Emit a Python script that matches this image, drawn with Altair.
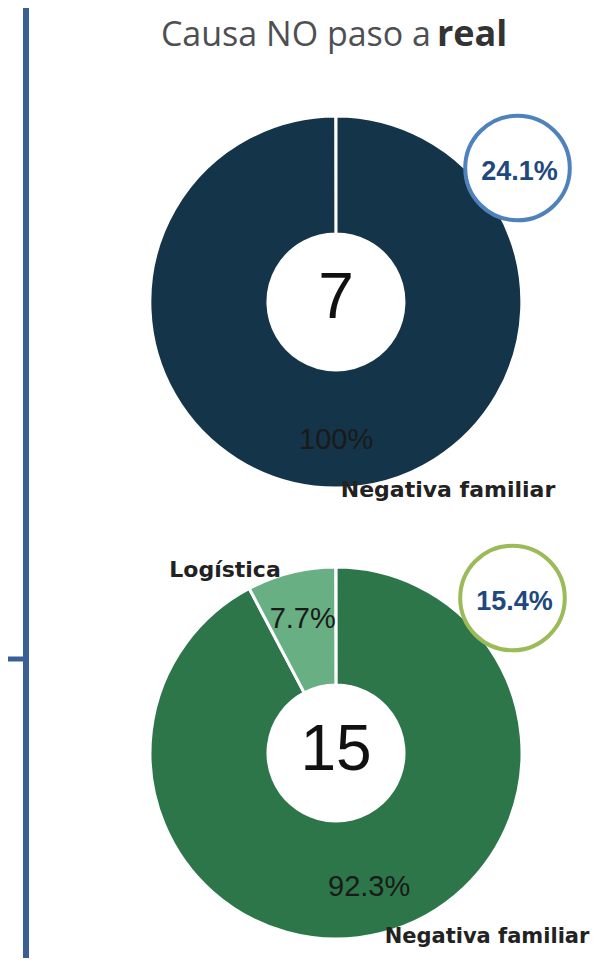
import altair as alt
import pandas as pd

# ---------------- data ----------------
titulo_normal = "Causa NO paso a"
titulo_bold = "real"

d1_cats = ["Negativa familiar"]
d1_vals = [100.0]
d1_total = ["7"]
d1_badge = ["24.1%"]

d2_cats = ["Negativa familiar", "Logística"]
d2_vals = [92.3, 7.7]
d2_total = ["15"]
d2_badge = ["15.4%"]

# ---------------- layout (chart pixel coords) ----------------
OFF = 8
W, H = 587, 950
C1 = (336 - OFF, 302 - OFF)
C2 = (336 - OFF, 753 - OFF)
R_IN, R_OUT = 68, 186

def px(x):
    return x - OFF

layers = []

# left decorative bar
bar_df = pd.DataFrame({"k": [0]})
layers.append(
    alt.Chart(bar_df).mark_rule(color="#3a5f94", strokeWidth=6).encode(
        x=alt.value(px(26)), y=alt.value(0), y2=alt.value(H)
    )
)
layers.append(
    alt.Chart(bar_df).mark_rule(color="#3a5f94", strokeWidth=5).encode(
        x=alt.value(0), x2=alt.value(px(26)), y=alt.value(px(659))
    )
)

# title
layers.append(
    alt.Chart(pd.DataFrame({"t": [titulo_normal]})).mark_text(
        font="Open Sans", fontSize=34, color="#4d4f53", align="right", baseline="alphabetic"
    ).encode(text="t:N", x=alt.value(px(431)), y=alt.value(px(46)))
)
layers.append(
    alt.Chart(pd.DataFrame({"t": [titulo_bold]})).mark_text(
        font="Open Sans", fontSize=36, fontWeight="bold", color="#333333", align="left", baseline="alphabetic"
    ).encode(text="t:N", x=alt.value(px(437)), y=alt.value(px(46)))
)


def donut(cats, vals, colors, c):
    df = pd.DataFrame({"cat": cats, "val": vals, "ord": list(range(len(cats)))})
    df["lbl"] = [f"{v:g}%" for v in vals]
    base = alt.Chart(df)
    th = alt.Theta("val:Q", stack=True, scale=alt.Scale(range=[0, 6.2815]))
    arc = base.mark_arc(innerRadius=R_IN, outerRadius=R_OUT, stroke="white", strokeWidth=3).encode(
        theta=th,
        order=alt.Order("ord:Q"),
        color=alt.Color("cat:N", scale=alt.Scale(domain=cats, range=colors), legend=None),
        x=alt.value(c[0]),
        y=alt.value(c[1]),
    )
    txt = base.mark_text(
        radius=138, font="Liberation Sans", fontSize=29, color="#1a1a1a", baseline="middle", align="center"
    ).encode(
        theta=th,
        order=alt.Order("ord:Q"),
        text="lbl:N",
        x=alt.value(c[0]),
        y=alt.value(c[1]),
    )
    return [arc, txt]


layers += donut(d1_cats, d1_vals, ["#143449"], C1)
layers += donut(d2_cats, d2_vals, ["#2c7649", "#68b084"], C2)

# center totals
for tot, c, by in [(d1_total, C1, 318), (d2_total, C2, 770)]:
    layers.append(
        alt.Chart(pd.DataFrame({"t": tot})).mark_text(
            font="Liberation Sans", fontSize=64, color="#111111", align="center", baseline="alphabetic"
        ).encode(text="t:N", x=alt.value(c[0]), y=alt.value(px(by)))
    )

# outer category labels
outer = [
    (d1_cats[0], 448, 497, 22),
    (d2_cats[0], 487, 943, 21),
    (d2_cats[1], 225, 577, 22),
]
for name, x, y, fs in outer:
    layers.append(
        alt.Chart(pd.DataFrame({"t": [name]})).mark_text(
            font="DejaVu Sans", fontWeight="bold", fontSize=fs, color="#222222", align="center", baseline="alphabetic"
        ).encode(text="t:N", x=alt.value(px(x)), y=alt.value(px(y)))
    )

# badges
badges = [
    (d1_badge, 517.5, 168, "#4f81bd", 180),
    (d2_badge, 512.5, 598, "#9bbb59", 610),
]
for b, x, y, col, by in badges:
    bdf = pd.DataFrame({"t": b})
    layers.append(
        alt.Chart(bdf).mark_point(
            shape="circle", filled=False, fill="white", fillOpacity=1, opacity=1,
            stroke=col, strokeWidth=4, size=3.14159 * 59 * 59
        ).encode(x=alt.value(px(x)), y=alt.value(px(y)))
    )
    layers.append(
        alt.Chart(bdf).mark_text(
            font="Liberation Sans", fontWeight="bold", fontSize=27, color="#1f497d", align="center", baseline="alphabetic"
        ).encode(text="t:N", x=alt.value(px(x + 2)), y=alt.value(px(by)))
    )

chart = alt.layer(*layers).resolve_scale(color="independent", theta="independent").properties(
    width=W, height=H, autosize=alt.AutoSizeParams(type="none"), padding=0
).configure_view(stroke=None)

chart.save("out.html", embed_options={"renderer": "svg", "actions": False})
